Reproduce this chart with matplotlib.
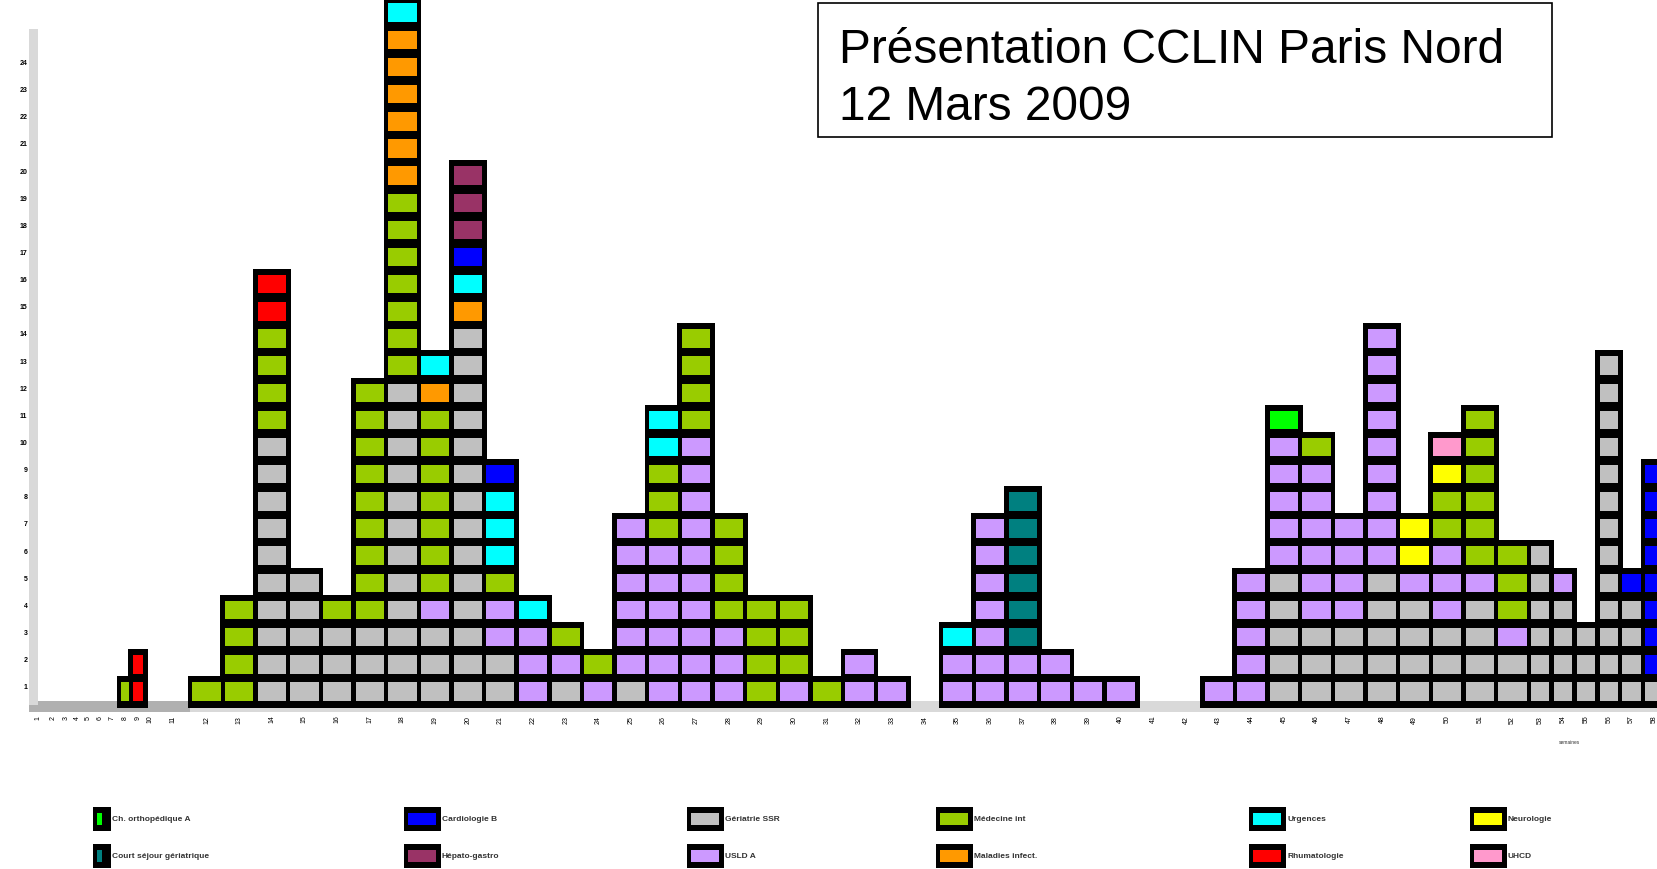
import numpy as np
import matplotlib
matplotlib.use("Agg")
import matplotlib.pyplot as plt
from matplotlib.patches import Rectangle
from matplotlib.transforms import ScaledTranslation

plt.rcParams['font.family'] = ['Liberation Sans', 'DejaVu Sans']

# ---------------- data ----------------
# category slots along the x axis (relative widths of each week slot)
slot_widths = [0.508, 0.429, 0.352, 0.337, 0.352, 0.352, 0.420, 0.355, 0.441, 0.294, 1.084,
               1, 1, 1, 1, 1, 1, 1, 1, 1, 1, 1, 1, 1, 1, 1, 1, 1, 1, 1, 1, 1, 1,
               1,
               1, 1, 1, 1, 1, 1,
               1, 1,
               1, 1, 1, 1, 1, 1, 1, 1, 1, 1,
               0.70, 0.70, 0.70, 0.70, 0.70, 0.70]
week_labels = [str(i + 1) for i in range(len(slot_widths))]

# number of cases per slot, one list per unit (stacking order bottom -> top)
gray = [0, 0, 0, 0, 0, 0, 0, 0, 0, 0, 0,
        0, 0, 10, 5, 3, 3, 12, 3, 14, 2, 0, 1, 0, 1, 0, 0, 0, 0, 0, 0, 0, 0,
        0,
        0, 0, 0, 0, 0, 0,
        0, 0,
        0, 0, 5, 3, 3, 5, 4, 3, 4, 2,
        6, 4, 3, 13, 4, 1]
lilac = [0, 0, 0, 0, 0, 0, 0, 0, 0, 0, 0,
         0, 0, 0, 0, 0, 0, 0, 1, 0, 2, 3, 1, 1, 6, 6, 10, 3, 0, 1, 0, 2, 1,
         0,
         2, 7, 2, 2, 1, 1,
         0, 0,
         1, 5, 5, 6, 4, 9, 1, 3, 1, 1,
         0, 1, 0, 0, 0, 0]
olive = [0, 0, 0, 0, 0, 0, 0, 1, 0, 0, 0,
         1, 4, 4, 0, 1, 9, 7, 7, 0, 1, 0, 1, 1, 0, 3, 4, 4, 4, 3, 1, 0, 0,
         0,
         0, 0, 0, 0, 0, 0,
         0, 0,
         0, 0, 0, 1, 0, 0, 0, 2, 6, 3,
         0, 0, 0, 0, 0, 0]
yellow = [0, 0, 0, 0, 0, 0, 0, 0, 0, 0, 0,
          0, 0, 0, 0, 0, 0, 0, 0, 0, 0, 0, 0, 0, 0, 0, 0, 0, 0, 0, 0, 0, 0,
          0,
          0, 0, 0, 0, 0, 0,
          0, 0,
          0, 0, 0, 0, 0, 0, 2, 1, 0, 0,
          0, 0, 0, 0, 0, 0]
pink = [0, 0, 0, 0, 0, 0, 0, 0, 0, 0, 0,
        0, 0, 0, 0, 0, 0, 0, 0, 0, 0, 0, 0, 0, 0, 0, 0, 0, 0, 0, 0, 0, 0,
        0,
        0, 0, 0, 0, 0, 0,
        0, 0,
        0, 0, 0, 0, 0, 0, 0, 1, 0, 0,
        0, 0, 0, 0, 0, 0]
red = [0, 0, 0, 0, 0, 0, 0, 0, 2, 0, 0,
       0, 0, 2, 0, 0, 0, 0, 0, 0, 0, 0, 0, 0, 0, 0, 0, 0, 0, 0, 0, 0, 0,
       0,
       0, 0, 0, 0, 0, 0,
       0, 0,
       0, 0, 0, 0, 0, 0, 0, 0, 0, 0,
       0, 0, 0, 0, 0, 0]
orange = [0, 0, 0, 0, 0, 0, 0, 0, 0, 0, 0,
          0, 0, 0, 0, 0, 0, 6, 1, 1, 0, 0, 0, 0, 0, 0, 0, 0, 0, 0, 0, 0, 0,
          0,
          0, 0, 0, 0, 0, 0,
          0, 0,
          0, 0, 0, 0, 0, 0, 0, 0, 0, 0,
          0, 0, 0, 0, 0, 0]
cyan = [0, 0, 0, 0, 0, 0, 0, 0, 0, 0, 0,
        0, 0, 0, 0, 0, 0, 1, 1, 1, 3, 1, 0, 0, 0, 2, 0, 0, 0, 0, 0, 0, 0,
        0,
        1, 0, 0, 0, 0, 0,
        0, 0,
        0, 0, 0, 0, 0, 0, 0, 0, 0, 0,
        0, 0, 0, 0, 0, 0]
blue = [0, 0, 0, 0, 0, 0, 0, 0, 0, 0, 0,
        0, 0, 0, 0, 0, 0, 0, 0, 1, 1, 0, 0, 0, 0, 0, 0, 0, 0, 0, 0, 0, 0,
        0,
        0, 0, 0, 0, 0, 0,
        0, 0,
        0, 0, 0, 0, 0, 0, 0, 0, 0, 0,
        0, 0, 0, 0, 1, 8]
maroon = [0, 0, 0, 0, 0, 0, 0, 0, 0, 0, 0,
          0, 0, 0, 0, 0, 0, 0, 0, 3, 0, 0, 0, 0, 0, 0, 0, 0, 0, 0, 0, 0, 0,
          0,
          0, 0, 0, 0, 0, 0,
          0, 0,
          0, 0, 0, 0, 0, 0, 0, 0, 0, 0,
          0, 0, 0, 0, 0, 0]
teal = [0, 0, 0, 0, 0, 0, 0, 0, 0, 0, 0,
        0, 0, 0, 0, 0, 0, 0, 0, 0, 0, 0, 0, 0, 0, 0, 0, 0, 0, 0, 0, 0, 0,
        0,
        0, 0, 6, 0, 0, 0,
        0, 0,
        0, 0, 0, 0, 0, 0, 0, 0, 0, 0,
        0, 0, 0, 0, 0, 0]
lime = [0, 0, 0, 0, 0, 0, 0, 0, 0, 0, 0,
        0, 0, 0, 0, 0, 0, 0, 0, 0, 0, 0, 0, 0, 0, 0, 0, 0, 0, 0, 0, 0, 0,
        0,
        0, 0, 0, 0, 0, 0,
        0, 0,
        0, 0, 1, 0, 0, 0, 0, 0, 0, 0,
        0, 0, 0, 0, 0, 0]

series_names = ["Gériatrie SSR", "USLD A", "Médecine int", "Neurologie", "UHCD",
                "Rhumatologie", "Maladies infect.", "Urgences", "Cardiologie B",
                "Hépato-gastro", "Court séjour gériatrique", "Ch. orthopédique A"]
series_values = [gray, lilac, olive, yellow, pink, red, orange, cyan, blue, maroon, teal, lime]
series_colors = ["#c0c0c0", "#cc99ff", "#99cc00", "#ffff00", "#ff99cc", "#ff0000",
                 "#ff9900", "#00ffff", "#0000ff", "#993366", "#008080", "#00ff00"]
# legend layout: two rows of six
legend_rows = [[11, 8, 0, 2, 7, 3], [10, 9, 1, 6, 5, 4]]

title_lines = ["Présentation CCLIN Paris Nord", "12 Mars 2009"]

# ---------------- layout ----------------
W_PX, H_PX = 1657, 870
PX_X, PX_Y = 32.65, 27.15     # pixels per slot unit / per case
X0_PX, Y0_PX = 29.4, 706.0    # origin of the plot (pixels from left / top)

fig = plt.figure(figsize=(W_PX / 100, H_PX / 100), dpi=100)
fig.patch.set_facecolor("white")

ax = fig.add_axes([X0_PX / W_PX, (H_PX - Y0_PX) / H_PX, 1 - X0_PX / W_PX, Y0_PX / H_PX])
ax.set_facecolor("none")
xmax = (W_PX - X0_PX) / PX_X
ax.set_xlim(0, xmax)
ax.set_ylim(0, Y0_PX / PX_Y)
for sp in ax.spines.values():
    sp.set_visible(False)

slot_w = np.array(slot_widths, dtype=float)
lefts = np.concatenate([[0.0], np.cumsum(slot_w)[:-1]])
centers = lefts + slot_w / 2
counts = np.array(series_values)
totals = counts.sum(axis=0)
n = len(slot_w)

# x-axis band
band_lo, band_h = -7 / PX_Y, 11 / PX_Y
ax.add_patch(Rectangle((0, band_lo), lefts[11], band_h, facecolor="#b0b0b0",
                       linewidth=0, zorder=1, clip_on=False))
ax.add_patch(Rectangle((lefts[11], band_lo), xmax - lefts[11], band_h, facecolor="#d9d9d9",
                       linewidth=0, zorder=1, clip_on=False))

# black silhouettes of the columns
ox = 2.5 / PX_X
top_ext, bot_ext = 1.7 / PX_Y, 3.0 / PX_Y
m = totals > 0
ax.bar(lefts[m] - ox, totals[m] + top_ext + bot_ext, width=slot_w[m] + 2 * ox,
       bottom=-bot_ext, align="edge", color="black", linewidth=0, zorder=2, clip_on=False)

# one coloured square per case
mx, my = 2.2 / PX_X, 4.35 / PX_Y
base = np.zeros(n)
for vals, col in zip(counts, series_colors):
    xs, ws, bs = [], [], []
    for i in range(n):
        for j in range(int(vals[i])):
            xs.append(lefts[i] + mx)
            ws.append(slot_w[i] - 2 * mx)
            bs.append(base[i] + j + my)
    if xs:
        ax.bar(xs, 1 - 2 * my, width=ws, bottom=bs, align="edge", color=col,
               linewidth=0, zorder=3, clip_on=False)
    base += vals

# ticks
ax.set_xticks(centers, week_labels, rotation=90, fontsize=5)
ax.tick_params(axis="x", length=0, pad=7)
ax.set_yticks(np.arange(1, 25), [str(v) for v in range(1, 25)], fontsize=5, fontweight="bold")
ax.tick_params(axis="y", length=0, pad=1.5)
for lab in ax.get_yticklabels():
    lab.set_transform(lab.get_transform() + ScaledTranslation(0, -8 / 100, fig.dpi_scale_trans))

# ---------------- overlay (pixel coordinates) ----------------
ov = fig.add_axes([0, 0, 1, 1])
ov.set_xlim(0, W_PX)
ov.set_ylim(H_PX, 0)
ov.axis("off")
ov.set_zorder(5)

# y-axis line
ov.add_patch(Rectangle((29.3, 30), 8.4, Y0_PX - 30, facecolor="#d9d9d9", linewidth=0))
ov.text(1569, 743, "semaines", fontsize=3.5, ha="center", va="center", color="#333333")

# title box
ov.add_patch(Rectangle((818, 4), 734, 134, fill=False, edgecolor="black", linewidth=1.2))
ov.text(839, 63.4, title_lines[0], fontsize=34.5, va="baseline", ha="left")
ov.text(839, 120.5, title_lines[1], fontsize=34.5, va="baseline", ha="left")

# legend
leg_x = [93, 404, 687, 936, 1249, 1470]
leg_y = [808, 845]
for r, row in enumerate(legend_rows):
    for c, si in enumerate(row):
        x0, y0 = leg_x[c], leg_y[r]
        if c == 0:
            bw, iw = 18, 4.6
        else:
            bw, iw = 37, 28
        ov.add_patch(Rectangle((x0, y0), bw, 24, facecolor="black", linewidth=0))
        ov.add_patch(Rectangle((x0 + 4, y0 + 6), iw, 12, facecolor=series_colors[si], linewidth=0))
        ov.text(x0 + bw + 1, y0 + 12, series_names[si], fontsize=6, va="center", ha="left",
                color="#333333", fontweight="bold")

fig.savefig("out.png", dpi=100)
